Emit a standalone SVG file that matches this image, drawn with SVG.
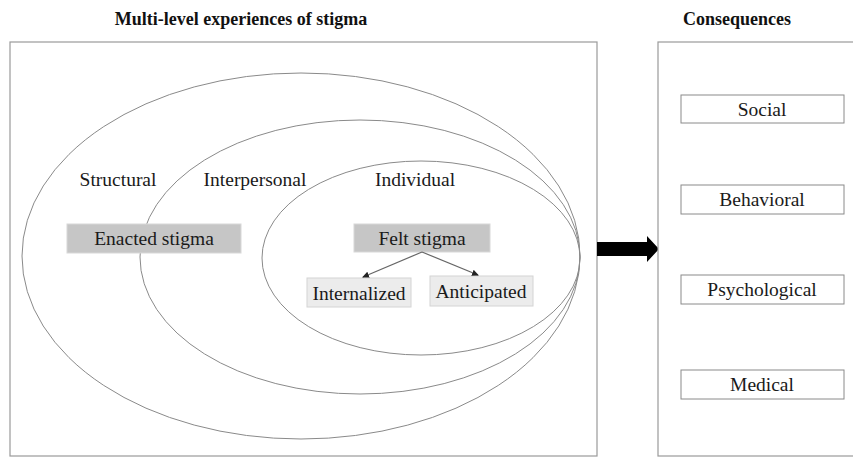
<svg xmlns="http://www.w3.org/2000/svg" width="853" height="457" viewBox="0 0 853 457">
<defs>
<style>
.t{font-family:"Liberation Serif","Times New Roman",serif;fill:#1a1a1a}
.h{font-family:"Liberation Serif","Times New Roman",serif;font-weight:bold;font-size:18px;fill:#111}
.lbl{font-size:19.5px}
.panel{fill:#fff;stroke:#9a9a9a;stroke-width:1.2}
.ell{fill:none;stroke:#8a8a8a;stroke-width:1}
.dark{fill:#c6c6c6;stroke:#d8d8d8;stroke-width:1}
.light{fill:#ececec;stroke:#d4d4d4;stroke-width:1}
.cbox{fill:#fff;stroke:#8a8a8a;stroke-width:1}
.conn{stroke:#666;stroke-width:1.2;fill:none}
</style>
<marker id="ah" markerWidth="8" markerHeight="8" refX="6" refY="4" orient="auto" markerUnits="userSpaceOnUse">
<path d="M0,0.8 L7,4 L0,7.2 Z" fill="#222"/>
</marker>
</defs>
<rect width="853" height="457" fill="#fff"/>
<text class="h" x="241" y="25" text-anchor="middle">Multi-level experiences of stigma</text>
<text class="h" x="737" y="25" text-anchor="middle">Consequences</text>
<g id="left-panel">
<rect class="panel" x="10" y="42" width="587" height="414"/>
<ellipse class="ell" cx="301" cy="256" rx="279" ry="183"/>
<ellipse class="ell" cx="360" cy="257" rx="220" ry="137"/>
<ellipse class="ell" cx="421" cy="258" rx="159" ry="97"/>
<text class="t lbl" x="118" y="186" text-anchor="middle">Structural</text>
<text class="t lbl" x="255" y="186" text-anchor="middle">Interpersonal</text>
<text class="t lbl" x="415" y="186" text-anchor="middle">Individual</text>
</g>
<g id="enacted">
<rect class="dark" x="67" y="224" width="174" height="29"/>
<text class="t lbl" x="154" y="245" text-anchor="middle">Enacted stigma</text>
</g>
<g id="felt">
<rect class="dark" x="354" y="224" width="136" height="28"/>
<text class="t lbl" x="422" y="245" text-anchor="middle">Felt stigma</text>
</g>
<g id="internalized">
<rect class="light" x="307" y="278" width="104" height="29"/>
<text class="t lbl" x="359" y="300" text-anchor="middle">Internalized</text>
</g>
<g id="anticipated">
<rect class="light" x="430" y="276" width="103" height="30"/>
<text class="t lbl" x="481" y="298" text-anchor="middle">Anticipated</text>
</g>
<g id="connectors">
<line class="conn" x1="422" y1="252" x2="363" y2="277" marker-end="url(#ah)"/>
<line class="conn" x1="422" y1="252" x2="478" y2="275" marker-end="url(#ah)"/>
<path d="M597,242 L647,242 L647,236 L659,249 L647,262 L647,256 L597,256 Z" fill="#000"/>
</g>
<g id="right-panel">
<rect class="panel" x="658" y="42" width="200" height="414"/>
</g>
<g id="social">
<rect class="cbox" x="681" y="95" width="163" height="28"/>
<text class="t lbl" x="762" y="116" text-anchor="middle">Social</text>
</g>
<g id="behavioral">
<rect class="cbox" x="681" y="185" width="163" height="29"/>
<text class="t lbl" x="762" y="206" text-anchor="middle">Behavioral</text>
</g>
<g id="psychological">
<rect class="cbox" x="681" y="275" width="163" height="29"/>
<text class="t lbl" x="762" y="296" text-anchor="middle">Psychological</text>
</g>
<g id="medical">
<rect class="cbox" x="681" y="370" width="163" height="29"/>
<text class="t lbl" x="762" y="391" text-anchor="middle">Medical</text>
</g>
</svg>
